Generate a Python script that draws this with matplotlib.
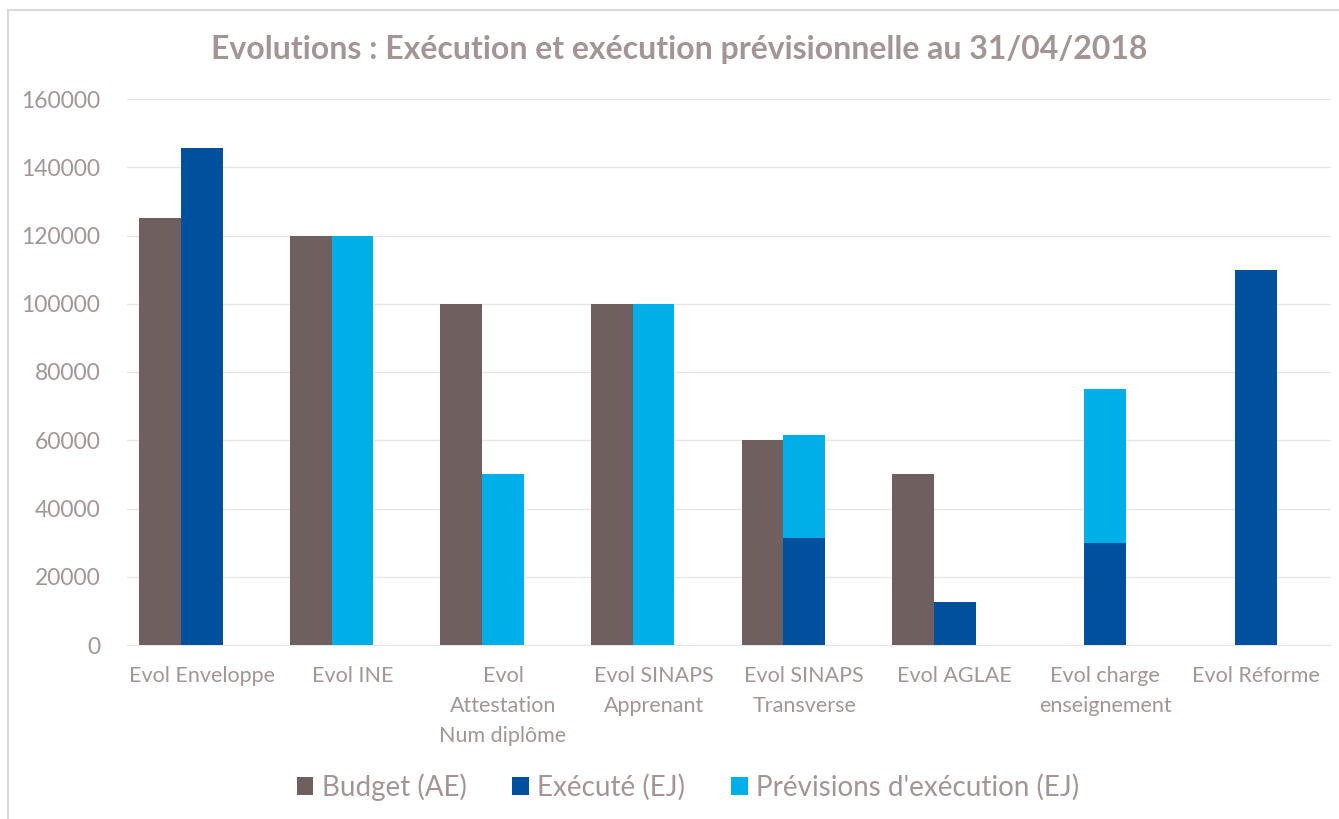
import matplotlib
matplotlib.use("Agg")
import matplotlib.pyplot as plt
import numpy as np
from matplotlib.patches import Rectangle

categories = ["Evol Enveloppe", "Evol INE", "Evol\nAttestation\nNum diplôme",
              "Evol SINAPS\nApprenant", "Evol SINAPS\nTransverse", "Evol AGLAE",
              "Evol charge\nenseignement", "Evol Réforme"]
budget = [125000, 120000, 100000, 100000, 60000, 50000, 0, 0]
execute = [145500, 0, 0, 0, 31500, 12500, 30000, 110000]
previsions = [0, 120000, 50000, 100000, 30000, 0, 45000, 0]
yticks = [0, 20000, 40000, 60000, 80000, 100000, 120000, 140000, 160000]

c_budget = "#705F5F"
c_exe = "#00509E"
c_prev = "#00AEE8"
txt = "#A39595"

plt.rcParams["font.family"] = ["Lato", "DejaVu Sans"]

fig = plt.figure(figsize=(13.39, 8.19), dpi=100)
fig.patches.append(Rectangle((8/1339, -0.1), 1.2, (819-10)/819 + 0.1, transform=fig.transFigure,
                             fill=False, edgecolor="#D9D9D9", linewidth=1.5))
ax = fig.add_axes([126.7/1339, 174/819, (1331-126.7)/1339, 546/819])

x = np.arange(len(categories))
w = 0.277
ax.bar(x - w, budget, w, color=c_budget, label="Budget (AE)", zorder=3)
ax.bar(x, execute, w, color=c_exe, label="Exécuté (EJ)", zorder=3)
ax.bar(x, previsions, w, bottom=execute, color=c_prev, label="Prévisions d'exécution (EJ)", zorder=3)

ax.set_xlim(-0.5, len(categories) - 0.5)
ax.set_ylim(0, 160000)
ax.set_yticks(yticks)
ax.set_yticklabels([str(v) for v in yticks], fontsize=16.5, color=txt)
ax.set_xticks(x)
ax.set_xticklabels(categories, fontsize=15.5, color=txt, linespacing=1.62, va="top")
ax.tick_params(axis="both", length=0)
ax.tick_params(axis="y", pad=19)
ax.tick_params(axis="x", pad=15)
ax.grid(axis="y", color="#E6E6E6", linewidth=1, zorder=0)
for s in ["top", "right", "left"]:
    ax.spines[s].set_visible(False)
ax.spines["bottom"].set_color("#E6E6E6")

fig.suptitle("Evolutions : Exécution et exécution prévisionnelle au 31/04/2018",
             x=(212+1147)/2/1339, y=1-49/819, va="center", fontsize=23, fontweight="bold", color=txt)

handles, labels = ax.get_legend_handles_labels()
leg = fig.legend(handles, labels, loc="center", bbox_to_anchor=(688/1339, 1-787/819), ncol=3,
                 frameon=False, fontsize=20, handlelength=0.6, handleheight=0.6,
                 handletextpad=0.3, columnspacing=1.65)
for t in leg.get_texts():
    t.set_color(txt)

fig.savefig("out.png", dpi=100)
